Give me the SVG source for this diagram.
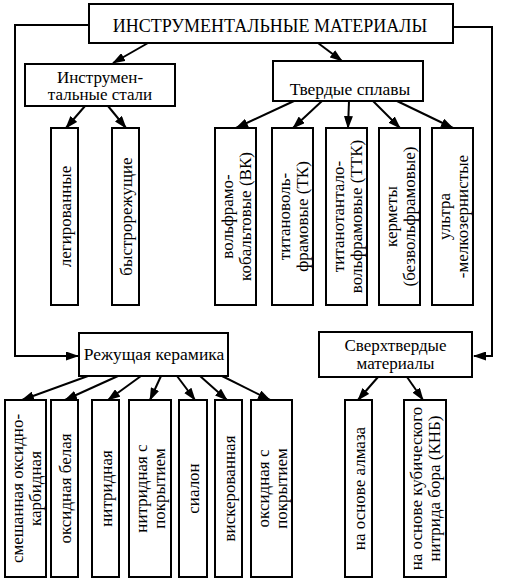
<svg xmlns="http://www.w3.org/2000/svg" width="506" height="582" viewBox="0 0 506 582">
<style>
.b{fill:#fff;stroke:#000;stroke-width:2}
.c{fill:none;stroke:#000;stroke-width:2}
text{font-family:"Liberation Serif","Times New Roman",serif;fill:#000}
.t{font-size:18px;text-anchor:middle}
.h{font-size:17.5px;text-anchor:middle}
.h2{font-size:17px;text-anchor:middle}
.l{font-size:17px;text-anchor:middle}
</style>
<defs>
<marker id="a" markerWidth="13" markerHeight="9" refX="12" refY="4.5" orient="auto" markerUnits="userSpaceOnUse">
<path d="M0,0 L13,4.5 L0,9 Z" fill="#000"/>
</marker>
</defs>
<rect width="506" height="582" fill="#fff"/>
<g id="connectors" class="c">
<path d="M89,25 H15 V356 H78" marker-end="url(#a)"/>
<path d="M453,27 H492 V356 H474" marker-end="url(#a)"/>
<path d="M148,43 L113,63" marker-end="url(#a)"/>
<path d="M318,43 L342,61" marker-end="url(#a)"/>
<path d="M85,106 L66,128" marker-end="url(#a)"/>
<path d="M108,106 L126,128" marker-end="url(#a)"/>
<path d="M294,101 L236,128" marker-end="url(#a)"/>
<path d="M322,101 L293,128" marker-end="url(#a)"/>
<path d="M349,101 L348,128" marker-end="url(#a)"/>
<path d="M373,101 L400,128" marker-end="url(#a)"/>
<path d="M397,101 L453,128" marker-end="url(#a)"/>
<path d="M88,376 L22,400" marker-end="url(#a)"/>
<path d="M118,376 L65,400" marker-end="url(#a)"/>
<path d="M141,376 L108,400" marker-end="url(#a)"/>
<path d="M161,376 L150,400" marker-end="url(#a)"/>
<path d="M177,376 L195,400" marker-end="url(#a)"/>
<path d="M200,376 L227,400" marker-end="url(#a)"/>
<path d="M222,376 L270,400" marker-end="url(#a)"/>
<path d="M378,377 L358,400" marker-end="url(#a)"/>
<path d="M407,377 L423,400" marker-end="url(#a)"/>
</g>
<g id="root"><rect class="b" x="89" y="4" width="364" height="39"/><text class="t" x="270" y="32">ИНСТРУМЕНТАЛЬНЫЕ МАТЕРИАЛЫ</text></g>
<g id="steels"><rect class="b" x="25" y="64" width="150" height="42"/><text class="h2" x="100" y="82.5">Инструмен-</text><text class="h2" x="100" y="100">тальные стали</text></g>
<g id="hard"><rect class="b" x="273" y="61" width="150" height="40"/><text class="h" x="350" y="95">Твердые сплавы</text></g>
<g id="ceramics"><rect class="b" x="79" y="333" width="149" height="43"/><text class="h" x="154" y="360">Режущая керамика</text></g>
<g id="superhard"><rect class="b" x="319" y="332" width="153" height="45"/><text class="h2" x="395.5" y="351">Сверхтвердые</text><text class="h2" x="395.5" y="369">материалы</text></g>

<g id="leg"><rect class="b" x="51" y="128" width="27" height="177"/><text class="l" transform="translate(64.5,216.5) rotate(-90)" y="6">легированные</text></g>
<g id="fast"><rect class="b" x="112" y="128" width="27" height="177"/><text class="l" transform="translate(125.5,216.5) rotate(-90)" y="6">быстрорежущие</text></g>

<g id="vk"><rect class="b" x="215" y="128" width="41" height="177"/><text class="l" transform="translate(235.5,216.5) rotate(-90)"><tspan x="0" y="-3">вольфрамо-</tspan><tspan x="0" y="15">кобальтовые (ВК)</tspan></text></g>
<g id="tk"><rect class="b" x="272" y="128" width="41" height="177"/><text class="l" transform="translate(292.5,216.5) rotate(-90)"><tspan x="0" y="-3">титановоль-</tspan><tspan x="0" y="15">фрамовые (ТК)</tspan></text></g>
<g id="ttk"><rect class="b" x="326" y="128" width="41" height="177"/><text class="l" transform="translate(346.5,216.5) rotate(-90)"><tspan x="0" y="-3">титанотантало-</tspan><tspan x="0" y="15">вольфрамовые (ТТК)</tspan></text></g>
<g id="cermet"><rect class="b" x="379" y="128" width="41" height="177"/><text class="l" transform="translate(399.5,216.5) rotate(-90)"><tspan x="0" y="-3">керметы</tspan><tspan x="0" y="15">(безвольфрамовые)</tspan></text></g>
<g id="ultra"><rect class="b" x="432" y="128" width="41" height="177"/><text class="l" transform="translate(452.5,216.5) rotate(-90)"><tspan x="0" y="-3">ультра</tspan><tspan x="0" y="15">-мелкозернистые</tspan></text></g>

<g id="mixed"><rect class="b" x="5" y="400" width="41" height="177"/><text class="l" transform="translate(25.5,488.5) rotate(-90)"><tspan x="0" y="-3">смешанная оксидно-</tspan><tspan x="0" y="15">карбидная</tspan></text></g>
<g id="white"><rect class="b" x="51" y="400" width="27" height="177"/><text class="l" transform="translate(64.5,488.5) rotate(-90)" y="6">оксидная белая</text></g>
<g id="nitr"><rect class="b" x="92" y="400" width="27" height="177"/><text class="l" transform="translate(105.5,488.5) rotate(-90)" y="6">нитридная</text></g>
<g id="nitrc"><rect class="b" x="129" y="400" width="42" height="177"/><text class="l" transform="translate(150,488.5) rotate(-90)"><tspan x="0" y="-3">нитридная с</tspan><tspan x="0" y="15">покрытием</tspan></text></g>
<g id="sialon"><rect class="b" x="179" y="400" width="28" height="177"/><text class="l" transform="translate(193,488.5) rotate(-90)" y="6">сиалон</text></g>
<g id="whisk"><rect class="b" x="215" y="400" width="27" height="177"/><text class="l" transform="translate(228.5,488.5) rotate(-90)" y="6">вискерованная</text></g>
<g id="oxc"><rect class="b" x="251" y="400" width="41" height="177"/><text class="l" transform="translate(271.5,488.5) rotate(-90)"><tspan x="0" y="-3">оксидная с</tspan><tspan x="0" y="15">покрытием</tspan></text></g>

<g id="diamond"><rect class="b" x="345" y="400" width="27" height="177"/><text class="l" transform="translate(358.5,488.5) rotate(-90)" y="6">на основе алмаза</text></g>
<g id="cbn"><rect class="b" x="404" y="400" width="42" height="177"/><text class="l" transform="translate(425,488.5) rotate(-90)"><tspan x="0" y="-3">на основе кубического</tspan><tspan x="0" y="15">нитрида бора (КНБ)</tspan></text></g>
</svg>
